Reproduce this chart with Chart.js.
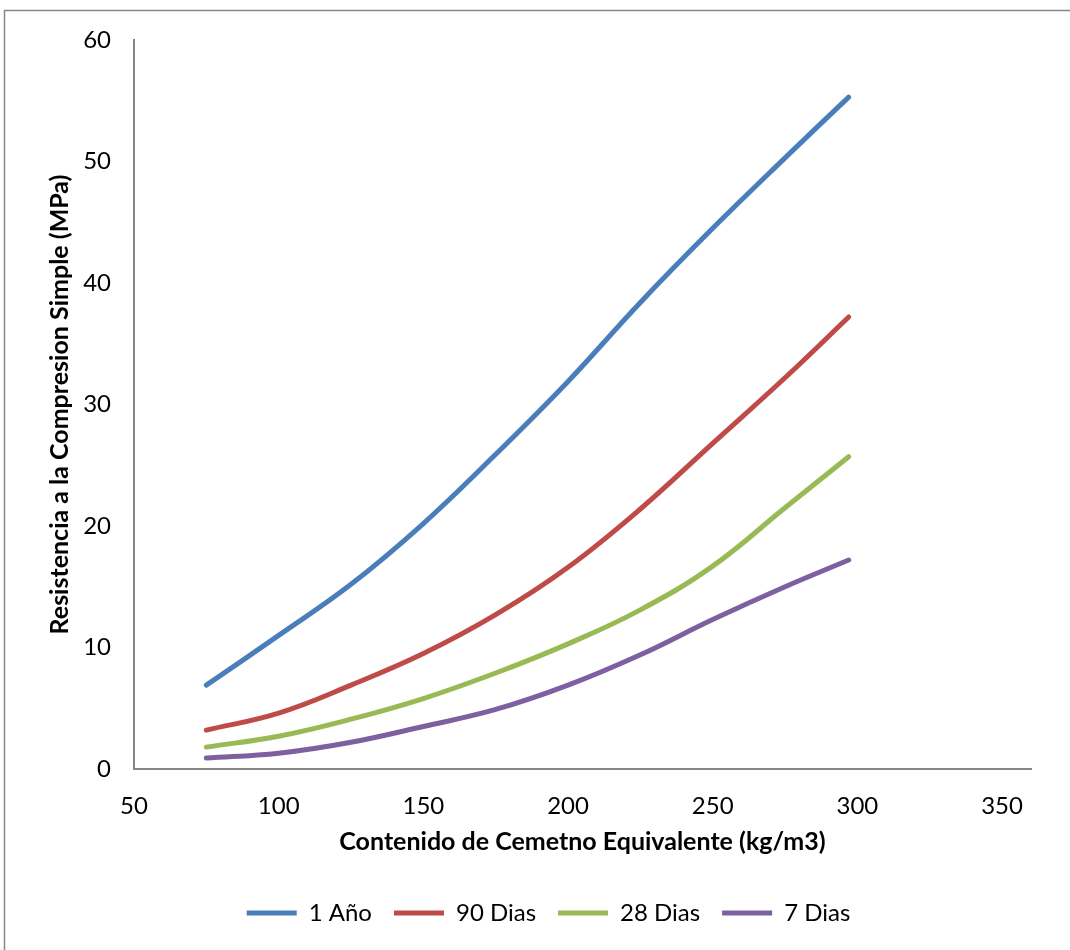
<!DOCTYPE html>
<html>
<head>
<meta charset="utf-8">
<script src="https://cdn.jsdelivr.net/npm/chart.js@4.4.1/dist/chart.umd.min.js"></script>
<style>
  html, body { margin: 0; padding: 0; background: #ffffff; }
  #wrap { position: relative; width: 1070px; height: 950px; }
</style>
</head>
<body>
<div id="wrap"><canvas id="chart" width="1070" height="950"></canvas></div>
<script>
// ---- Data ----
const cementContent = [75, 100, 125, 150, 175, 200, 225, 250, 275, 297];
const oneYear  = [6.9, 11.0, 15.2, 20.2, 25.9, 31.9, 38.4, 44.5, 50.3, 55.3];
const days90   = [3.2, 4.6, 6.9, 9.5, 12.7, 16.6, 21.4, 26.8, 32.2, 37.2];
const days28   = [1.8, 2.7, 4.1, 5.8, 7.9, 10.3, 13.1, 16.7, 21.5, 25.7];
const days7    = [0.9, 1.3, 2.2, 3.5, 4.9, 6.9, 9.4, 12.3, 15.0, 17.2];

const seriesNames  = ['1 Año', '90 Dias', '28 Dias', '7 Dias'];
const seriesValues = [oneYear, days90, days28, days7];
const seriesColors = ['#4A7EBB', '#BE4B48', '#98B954', '#7D60A0'];

const xTitle = 'Contenido de Cemetno Equivalente (kg/m3)';
const yTitle = 'Resistencia a la Compresion Simple (MPa)';

const FONT = 'Lato, "Open Sans", "Noto Sans", sans-serif';

const datasets = seriesNames.map((name, i) => ({
  label: name,
  data: cementContent.map((x, j) => ({ x: x, y: seriesValues[i][j] })),
  borderColor: seriesColors[i],
  backgroundColor: seriesColors[i],
  borderWidth: 5,
  borderCapStyle: 'round',
  borderJoinStyle: 'round',
  pointRadius: 0,
  pointHoverRadius: 0,
  pointStyle: 'line',
  tension: 0.4,
  fill: false
}));

const framePlugin = {
  id: 'frame',
  beforeDraw(chart) {
    const ctx = chart.ctx;
    ctx.save();
    ctx.fillStyle = '#ffffff';
    ctx.fillRect(0, 0, chart.width, chart.height);
    ctx.strokeStyle = '#868686';
    ctx.lineWidth = 1.5;
    ctx.strokeRect(4.5, 10.5, chart.width + 100, chart.height + 100);
    ctx.restore();
  }
};

new Chart(document.getElementById('chart'), {
  type: 'line',
  data: { datasets: datasets },
  plugins: [framePlugin],
  options: {
    responsive: false,
    animation: false,
    devicePixelRatio: 1,
    layout: { padding: { left: 27, right: 0, top: 40, bottom: 15 } },
    plugins: {
      legend: {
        position: 'bottom',
        labels: {
          usePointStyle: true,
          pointStyleWidth: 50,
          boxHeight: 5,
          padding: 22,
          color: '#000000',
          font: { family: FONT, size: 24 }
        }
      },
      tooltip: { enabled: false }
    },
    scales: {
      x: {
        type: 'linear',
        min: 50,
        max: 360,
        grid: { display: false },
        border: { display: true, color: '#868686', width: 2 },
        ticks: {
          stepSize: 50,
          includeBounds: false,
          padding: 15,
          color: '#000000',
          font: { family: FONT, size: 24 }
        },
        title: {
          display: true,
          text: xTitle,
          color: '#000000',
          font: { family: FONT, size: 25, weight: 'bold' },
          padding: { top: 0, bottom: 22 }
        },
        afterFit(scale) { scale.height = 110; }
      },
      y: {
        type: 'linear',
        position: 'left',
        min: 0,
        max: 60,
        grid: { display: false },
        border: { display: true, color: '#868686', width: 2 },
        ticks: {
          stepSize: 10,
          padding: 15,
          color: '#000000',
          font: { family: FONT, size: 24 }
        },
        title: {
          display: true,
          text: yTitle,
          color: '#000000',
          font: { family: FONT, size: 25, weight: 'bold' },
          padding: { top: 18, bottom: 0 }
        },
        afterFit(scale) { scale.width = 107; }
      },
      yRight: {
        type: 'linear',
        position: 'right',
        display: true,
        grid: { display: false },
        border: { display: false },
        ticks: { display: false },
        afterFit(scale) { scale.width = 39; }
      }
    }
  }
});
</script>
</body>
</html>
